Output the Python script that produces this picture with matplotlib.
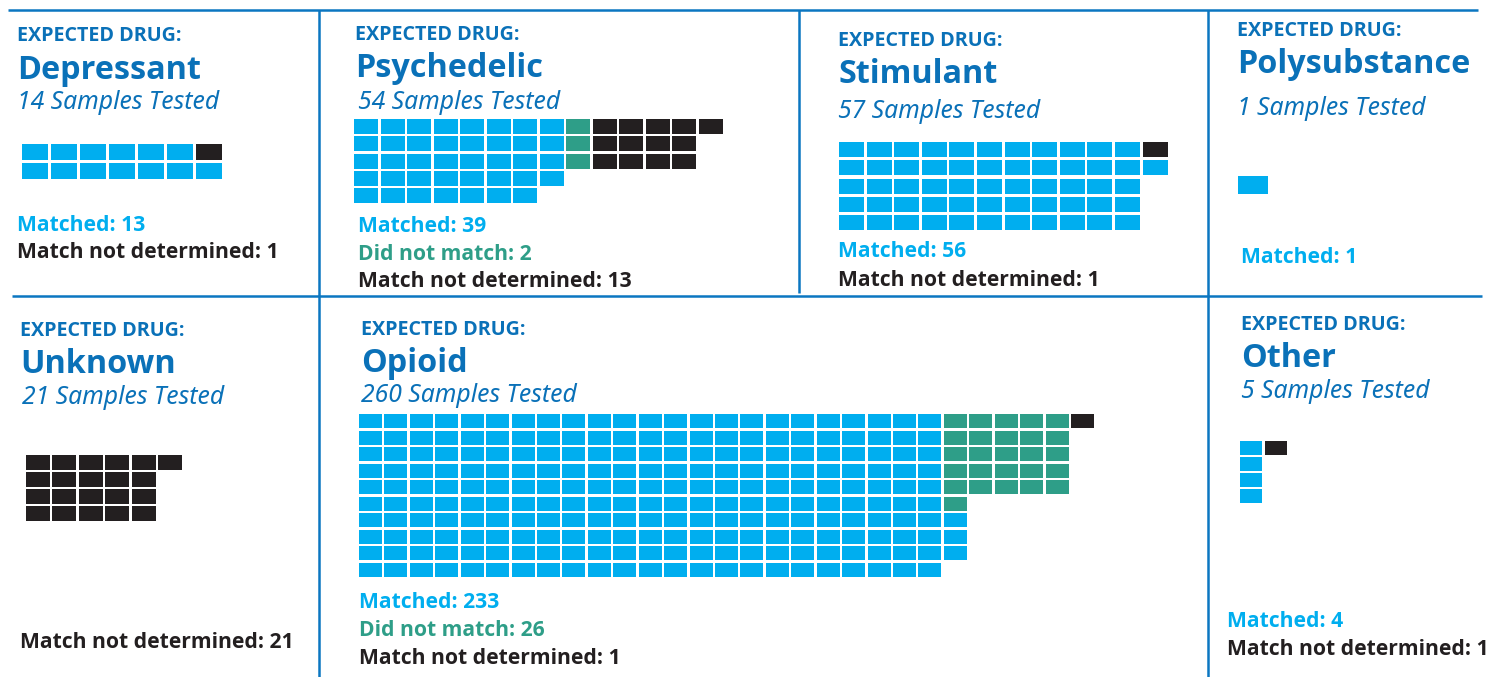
import matplotlib
matplotlib.use("Agg")
import matplotlib.pyplot as plt
from matplotlib.patches import Rectangle


# ==========================================================
# DATA
# ==========================================================

drugs = ["Depressant", "Psychedelic", "Stimulant", "Polysubstance",
         "Unknown", "Opioid", "Other"]
matched = [13, 39, 56, 1, 0, 233, 4]
did_not_match = [0, 2, 0, 0, 0, 26, 0]
not_determined = [1, 13, 1, 0, 21, 1, 1]

# the original graphic draws 3 green squares for Psychedelic (label says 2)
waffle_did_not_match = [0, 3, 0, 0, 0, 26, 0]

# waffle shape per panel: runs of (number of columns, column height)
col_runs = [
    [(7, 2)],
    [(7, 5), (1, 4), (5, 3), (1, 1)],
    [(11, 5), (1, 2)],
    [(1, 1)],
    [(5, 4), (1, 1)],
    [(23, 10), (1, 9), (4, 5), (1, 1)],
    [(1, 4), (1, 1)],
]


# ==========================================================
# STYLE / LAYOUT (pixel units, origin top left)
# ==========================================================

W, H = 1493, 677
FONT_B = ["Open Sans", "DejaVu Sans"]
FONT_I = ["Noto Sans", "DejaVu Sans"]

C_TITLE = "#0a71b8"
C_LINE = "#0b76c1"
C_MATCH = "#00aeef"
C_NOMATCH = "#2e9e88"
C_UNDET = "#231f20"

# x, header baseline, name baseline, subtitle baseline, subtitle x
headers = [
    (17, 41, 79, 109, 17),
    (355, 40, 77, 109, 358),
    (838, 46, 83, 118, 838),
    (1237, 36, 73, 115, 1237),
    (20, 336, 373, 404, 22),
    (361, 335, 372, 402, 361),
    (1241, 330, 367, 398, 1241),
]

# grid: left, top, x pitch, y pitch, cell w, cell h
grids = [
    (22, 144, 29.0, 19.0, 26, 16),
    (354, 119, 26.5, 17.25, 24, 15),
    (839, 142, 27.6, 18.25, 25, 15),
    (1238, 176, 30.0, 18.0, 30, 18),
    (26, 455, 26.4, 17.0, 24, 15),
    (359, 414, 25.43, 16.55, 23, 14),
    (1240, 441, 25.0, 16.0, 22, 14),
]

# label x, first label baseline, line spacing
labels_pos = [
    (17, 231, 27),
    (358, 232, 27.5),
    (838, 257, 29),
    (1241, 263, 28),
    (20, 648, 28),
    (359, 608, 28),
    (1227, 627, 28),
]


def waffle_cells(runs, counts):
    """Fill columns bottom-up, left to right, category by category."""
    slots = []
    col = 0
    for ncols, height in runs:
        for _ in range(ncols):
            for row in range(height - 1, -1, -1):
                slots.append((col, row))
            col += 1
    cells = []
    k = 0
    for cat, n in enumerate(counts):
        for _ in range(n):
            if k < len(slots):
                cells.append((slots[k][0], slots[k][1], cat))
            k += 1
    return cells


fig = plt.figure(figsize=(W / 100, H / 100), dpi=100)
ax = fig.add_axes([0, 0, 1, 1])
ax.set_xlim(0, W)
ax.set_ylim(H, 0)
ax.axis("off")

# frame lines
lw = 1.8
ax.plot([8, 1478], [9.5, 9.5], color=C_LINE, lw=lw, solid_capstyle="butt")
ax.plot([12, 1482], [296, 296], color=C_LINE, lw=lw, solid_capstyle="butt")
ax.plot([319, 319], [9.5, H], color=C_LINE, lw=lw, solid_capstyle="butt")
ax.plot([799, 799], [9.5, 293], color=C_LINE, lw=lw, solid_capstyle="butt")
ax.plot([1208, 1208], [9.5, H], color=C_LINE, lw=lw, solid_capstyle="butt")

cat_colors = [C_MATCH, C_NOMATCH, C_UNDET]

for i, drug in enumerate(drugs):
    x, yh, yn, ys, xs = headers[i]
    total = matched[i] + did_not_match[i] + not_determined[i]

    ax.text(x, yh, "EXPECTED DRUG:", family=FONT_B, weight="bold",
            fontsize=14.2, color=C_TITLE, va="baseline")
    ax.text(x, yn, drug, family=FONT_B, weight="bold",
            fontsize=23.3, color=C_TITLE, va="baseline")
    ax.text(xs, ys, f"{total} Samples Tested", family=FONT_I, style="italic",
            fontsize=17.8, color=C_TITLE, va="baseline")

    # waffle
    gx, gy, px, py, cw, ch = grids[i]
    counts = [matched[i], waffle_did_not_match[i], not_determined[i]]
    for col, row, cat in waffle_cells(col_runs[i], counts):
        ax.add_patch(Rectangle((gx + col * px, gy + row * py), cw, ch,
                               facecolor=cat_colors[cat], edgecolor="none"))

    # count labels
    lx, ly, dy = labels_pos[i]
    lines = [
        ("Matched", matched[i], C_MATCH),
        ("Did not match", did_not_match[i], C_NOMATCH),
        ("Match not determined", not_determined[i], C_UNDET),
    ]
    n = 0
    for name, val, c in lines:
        if val == 0:
            continue
        ax.text(lx, ly + n * dy, f"{name}: {val}", family=FONT_B,
                weight="bold", fontsize=15.2, color=c, va="baseline")
        n += 1

fig.savefig("out.png", dpi=100)
